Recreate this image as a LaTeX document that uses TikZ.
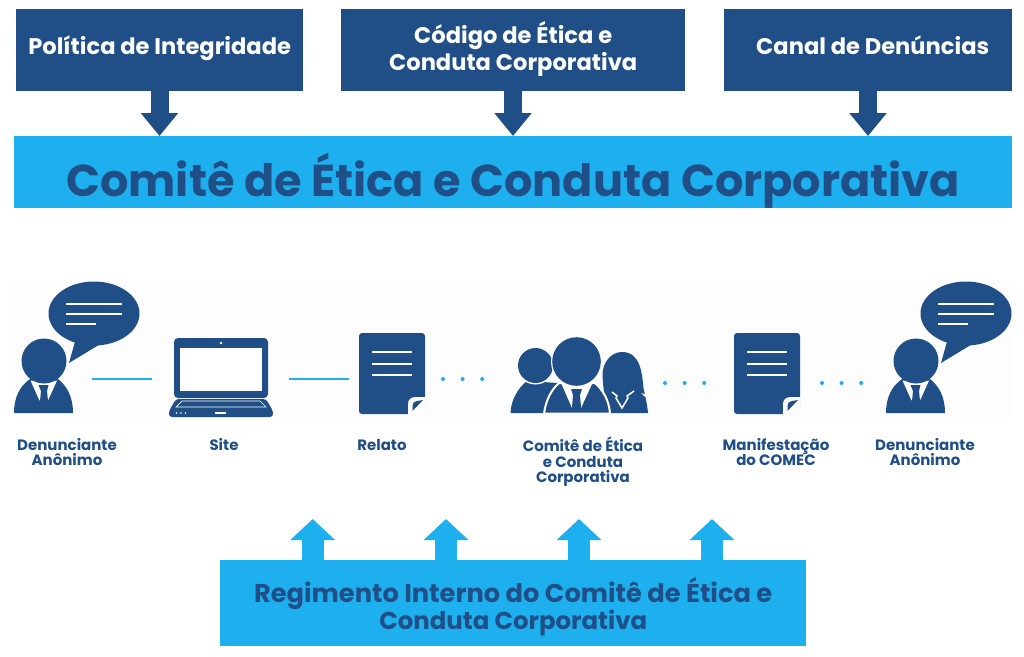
\documentclass[tikz,border=0pt]{standalone}
\usepackage{fontspec}
\setmainfont{Poppins}
\usetikzlibrary{arrows.meta,calc}
\definecolor{navy}{HTML}{1F4F86}
\definecolor{sky}{HTML}{1EAFEE}
\definecolor{band}{HTML}{FDFDFE}
\tikzset{
  x=1pt,y=-1pt,
  navybox/.style={fill=navy,inner sep=0pt,anchor=north west},
  navytext/.style={text=white,font=\bfseries\fontsize{22.6}{27.5}\selectfont,align=center,inner sep=0pt},
  skybox/.style={fill=sky,inner sep=0pt,anchor=north west},
  skytext/.style={text=navy,align=center,inner sep=0pt},
  darrow/.style={draw=navy,line width=18pt,-{Triangle[length=23pt,width=36pt]}},
  larrow/.style={draw=sky,line width=22pt,-{Triangle[length=21pt,width=43.5pt]}},
  solidlink/.style={draw=sky,line width=2.5pt},
  dotlink/.style={draw=sky,line width=4pt,line cap=round,dash pattern=on 0pt off 19.6pt},
  captext/.style={text=navy,font=\bfseries\fontsize{15}{15.5}\selectfont,align=center,anchor=north,inner sep=0pt},
  whiteline/.style={draw=white,line width=2.2pt},
  personicon/.pic={
    \fill[navy] (94,313.5) ellipse [x radius=45.5,y radius=32];
    \fill[navy] (76,338) -- (69,363) -- (102,343) -- cycle;
    \draw[whiteline] (66,304) -- (122,304) (66,314) -- (122,314) (66,324) -- (96,324);
    \fill[navy] (14,413) .. controls (14,397) and (20,386) .. (30,379) -- (58,379) .. controls (67,386) and (73,397) .. (73,413) -- cycle;
    \fill[white] (30.5,380.5) -- (39.5,400.5) -- (44,394) -- (48,400.5) -- (57,380.5) -- cycle;
    \fill[navy] (38.5,385) -- (48.5,385) -- (47,391) -- (48,401) -- (44,405) -- (40,401) -- (41,391) -- cycle;
    \fill[navy] (44,361) circle [radius=22.5];
  },
  docicon/.pic={
    \fill[navy,rounded corners=3pt] (359,333) -- (425,333) -- (425,414) -- (359,414) -- cycle;
    \draw[white,line width=2.6pt] (372,352) -- (412,352) (372,364) -- (412,364) (372,375) -- (412,375);
    \fill[white] (408,414.5) -- (408,404) .. controls (408,399.5) and (411,397) .. (416,397) -- (425.5,397) -- (425.5,414.5) -- cycle;
    \fill[navy] (412.5,411) -- (412.5,406) .. controls (412.5,403) and (414,401) .. (417,401) -- (423,400) -- cycle;
  },
}
\begin{document}
\begin{tikzpicture}
\useasboundingbox (0,0) rectangle (1024,656);
\fill[white] (0,0) rectangle (1024,656);
\fill[band] (14,282) rectangle (1012,417);
% top boxes
\node[navybox,minimum width=287pt,minimum height=82pt] (b1) at (16,9) {};
\node[navybox,minimum width=344pt,minimum height=82pt] (b2) at (341,9) {};
\node[navybox,minimum width=288pt,minimum height=82pt] (b3) at (724,9) {};
\node[navytext] (b1t) at ($(b1.center)+(0,-2)$) {Política de Integridade};
\node[navytext] (b2t) at ($(b2.center)+(0,-1)$) {Código de Ética e\\Conduta Corporativa};
\node[navytext] (b3t) at ($(b3.center)+(4.5,-5)$) {Canal de Denúncias};
% band
\node[skybox,minimum width=998pt,minimum height=72pt] (title) at (14,136) {};
\node[skytext,font=\bfseries\fontsize{44.6}{48}\selectfont] (titlet) at ($(title.center)+(0,8)$) {Comitê de Ética e Conduta Corporativa};
\coordinate (t1) at (159.5,136);
\coordinate (t2) at (513,136);
\coordinate (t3) at (868,136);
\draw[darrow] (t1 |- b1.south) -- (t1);
\draw[darrow] (t2 |- b2.south) -- (t2);
\draw[darrow] (t3 |- b3.south) -- (t3);
% icons
\pic (p1) at (0,0) {personicon};
\pic (p2) at (872,0) {personicon};
\pic (d1) at (0,0) {docicon};
\pic (d2) at (375,0) {docicon};
% laptop
\fill[navy,rounded corners=4pt] (174,338) rectangle (268,398);
\fill[white] (180,348) rectangle (262,391);
\fill[white] (221,343) circle [radius=1.3];
\fill[navy,rounded corners=3pt] (176,399) -- (266,399) -- (273,411) -- (273,417) -- (169,417) -- (169,411) -- cycle;
\draw[white,line width=0.7pt] (176,407) -- (182,401) -- (260,401) -- (266,407) -- cycle;
\fill[white] (176.5,413) circle [radius=0.9] (181,413) circle [radius=0.9] (185.5,413) circle [radius=0.9];
\fill[white] (214.5,412) rectangle (226,414);
% group icon: left person
\fill[navy] (510.5,413) .. controls (511,400) and (518,388) .. (527,381) -- (558,383) -- (545,413) -- cycle;
\fill[white] (535.5,365.5) circle [radius=19];
\fill[navy] (535.5,365.5) circle [radius=17.5];
% group icon: woman
\fill[navy] (606,413) -- (648,413) .. controls (647,403) and (645,395) .. (643.5,388) .. controls (642,372) and (640,352) .. (622,352) .. controls (610,352) and (602,364) .. (602.5,376) .. controls (603,390) and (606,400) .. (606,413) -- cycle;
\draw[white,line width=1.5pt] (612,392) -- (617,396) -- (616,398) -- (622,408) -- (628,398) -- (627,396) -- (634,391);
\fill[white] (641,393) -- (648,395) -- (645,397) -- cycle;
% group icon: central person
\draw[white,line width=2pt,fill=navy] (544,413.5) .. controls (546,400) and (551,390) .. (559,383) -- (595,383) .. controls (603,390) and (609,400) .. (610,413.5) -- cycle;
\fill[white] (561.5,384) -- (572,408) -- (577,398) -- (581,408) -- (592,384) -- cycle;
\fill[navy] (571,389) -- (582,389) -- (580,395) -- (581,407) -- (576.5,412) -- (572,407) -- (573,395) -- cycle;
\fill[white] (576.5,361.5) circle [radius=25.5];
\fill[navy] (576.5,361.5) circle [radius=24.3];
% connector anchors
\coordinate (s1) at (92,379); \coordinate (e1) at (152,379);
\coordinate (s2) at (289,379); \coordinate (e2) at (349,379);
\coordinate (s3) at (443,379); \coordinate (e3) at (484,379);
\coordinate (s4) at (665,383); \coordinate (e4) at (706,383);
\coordinate (s5) at (822,383); \coordinate (e5) at (863,383);
\draw[solidlink] (s1) -- (e1);
\draw[solidlink] (s2) -- (e2);
\draw[dotlink] (s3) -- (e3);
\draw[dotlink] (s4) -- (e4);
\draw[dotlink] (s5) -- (e5);
% captions
\node[captext] (c1) at (67,438) {Denunciante\\Anônimo};
\node[captext] (c2) at (224,438) {Site};
\node[captext] (c3) at (382,439) {Relato};
\node[captext] (c4) at (583,437) {Comitê de Ética\\e Conduta\\Corporativa};
\node[captext] (c5) at (776,438) {Manifestação\\do COMEC};
\node[captext] (c6) at (925,438) {Denunciante\\Anônimo};
% bottom
\node[skybox,minimum width=586pt,minimum height=86pt] (reg) at (220,560) {};
\node[skytext,font=\bfseries\fontsize{25.7}{27}\selectfont] (regt) at ($(reg.center)+(0,3)$) {Regimento Interno do Comitê de Ética e\\{\fontsize{24.4}{27}\selectfont Conduta Corporativa}};
\coordinate (a1) at (312.7,519);
\coordinate (a2) at (446,519);
\coordinate (a3) at (579,519);
\coordinate (a4) at (712,519);
\draw[larrow] (a1 |- reg.north) -- (a1);
\draw[larrow] (a2 |- reg.north) -- (a2);
\draw[larrow] (a3 |- reg.north) -- (a3);
\draw[larrow] (a4 |- reg.north) -- (a4);
\end{tikzpicture}
\end{document}
